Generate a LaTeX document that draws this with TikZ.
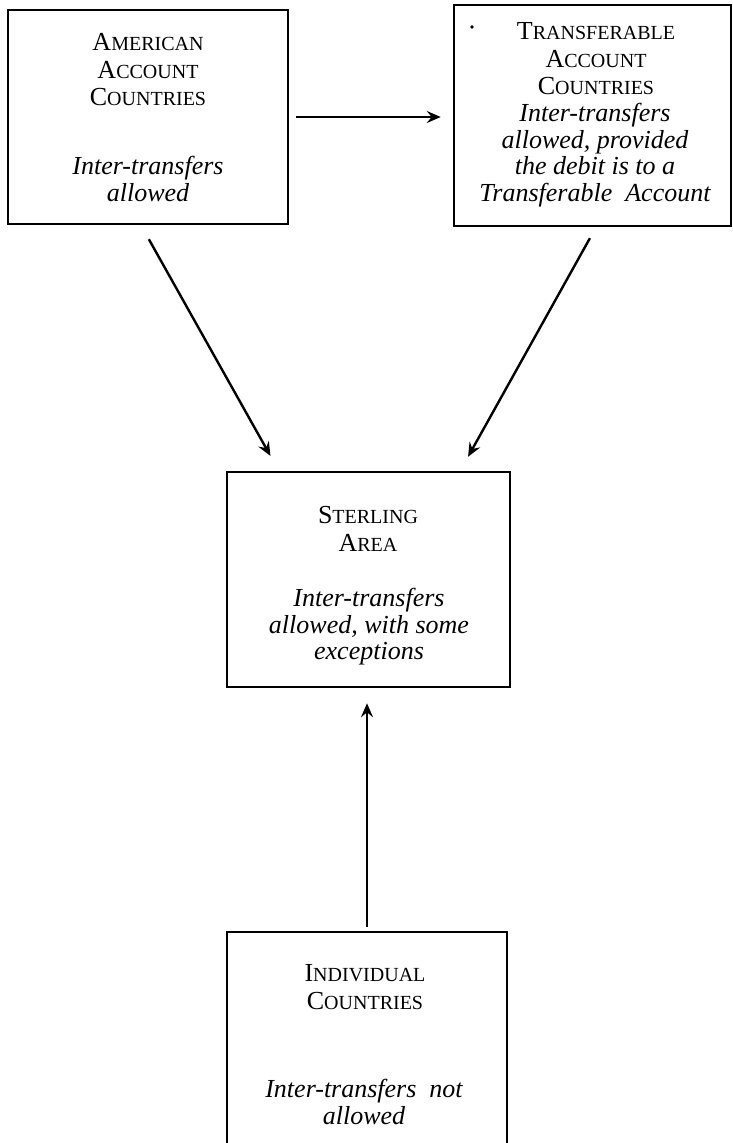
\documentclass[tikz,border=0pt]{standalone}
\usepackage{fontspec}
\setmainfont{Liberation Serif}
\usetikzlibrary{arrows.meta,calc}
\newcommand{\Cap}[1]{{\fontsize{26pt}{27.5pt}\selectfont #1}}
\begin{document}
\begin{tikzpicture}[x=1pt,y=-1pt,
  box/.style={draw, line width=2.5pt, rectangle, inner sep=0pt},
  titletext/.style={align=center, font=\fontsize{20pt}{27.5pt}\selectfont, inner sep=0pt},
  desctext/.style={align=center, font=\fontsize{26pt}{26.5pt}\selectfont\itshape, inner sep=0pt},
  arr/.style={-{Stealth[length=14pt,width=12pt,inset=5pt]}, line width=2.4pt}]
\useasboundingbox (0,0) rectangle (733,1143);
% boxes
\node[box, minimum width=280pt, minimum height=214pt] (a) at (148,117) {};
\node[box, minimum width=277pt, minimum height=221pt] (b) at (592.5,115.5) {};
\node[box, minimum width=283pt, minimum height=215pt] (c) at (368.5,579.5) {};
\node[box, minimum width=280pt, minimum height=260pt] (d) at (367,1062) {};
% texts
\node[titletext] (at) at (148,70) {\Cap{A}MERICAN\\\Cap{A}CCOUNT\\\Cap{C}OUNTRIES};
\node[desctext] (ad) at (148,179) {Inter-transfers\\allowed};
\node[titletext] (bt) at (596,59) {\Cap{T}RANSFERABLE\\\Cap{A}CCOUNT\\\Cap{C}OUNTRIES};
\node[desctext] (bd) at (595,155) {Inter-transfers\\allowed, provided\\the debit is to a\\Transferable\ \ Account};
\node[titletext] (ct) at (368,529) {\Cap{S}TERLING\\\Cap{A}REA};
\node[desctext] (cd) at (369,627) {Inter-transfers\\allowed, with some\\exceptions};
\node[titletext] (dt) at (365,987) {\Cap{I}NDIVIDUAL\\\Cap{C}OUNTRIES};
\node[desctext] (dd) at (364,1102) {Inter-transfers\ \ not\\allowed};
\fill (472,27) circle (1.8);
% connectors
\draw[arr, shorten <=7pt, shorten >=12pt] (a.east) -- (a.east -| b.west);
\draw[arr, shorten <=16pt, shorten >=17pt] ($(a.south)+(-7,0)$) -- ($(c.north west)+(53,0)$);
\draw[arr, shorten <=12.5pt, shorten >=16pt] ($(b.south)+(3.5,0)$) -- ($(c.north east)+(-51,0)$);
\draw[arr, shorten <=4pt, shorten >=15pt] (d.north) -- (d.north |- c.south);
\end{tikzpicture}
\end{document}
